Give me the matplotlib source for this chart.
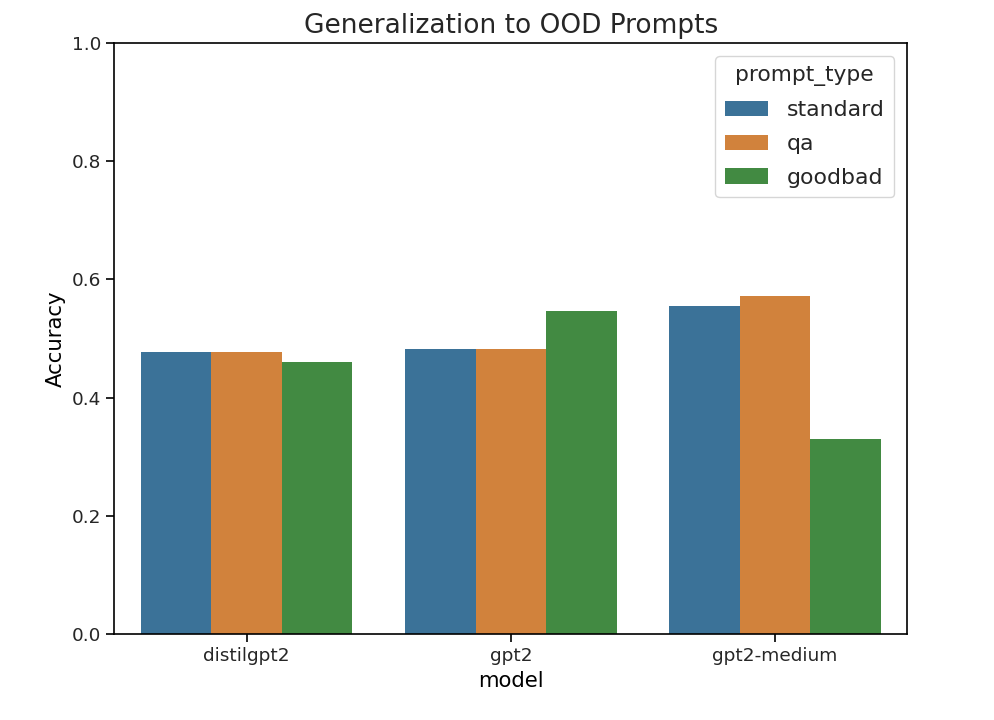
import matplotlib
matplotlib.use("Agg")
import matplotlib.pyplot as plt
import seaborn as sns
import pandas as pd

models = ["distilgpt2", "gpt2", "gpt2-medium"]
prompt_types = ["standard", "qa", "goodbad"]
standard_acc = [0.477, 0.482, 0.555]
qa_acc = [0.477, 0.482, 0.572]
goodbad_acc = [0.460, 0.547, 0.330]

rows = []
for i, m in enumerate(models):
    rows.append({"model": m, "prompt_type": "standard", "Accuracy": standard_acc[i]})
    rows.append({"model": m, "prompt_type": "qa", "Accuracy": qa_acc[i]})
    rows.append({"model": m, "prompt_type": "goodbad", "Accuracy": goodbad_acc[i]})
df = pd.DataFrame(rows)

# muted tab10 colours, as in the picture
palette = [sns.desaturate(c, 0.62) for c in ["#1f77b4", "#ff7f0e", "#2ca02c"]]

plt.rcParams["text.color"] = "#262626"
plt.rcParams["xtick.labelcolor"] = "#262626"
plt.rcParams["ytick.labelcolor"] = "#262626"
fig = plt.figure(figsize=(9.94, 7.2), dpi=100)
ax = fig.add_axes([0.1151, 0.1194, 0.7977, 0.8209])
sns.barplot(data=df, x="model", y="Accuracy", hue="prompt_type",
            hue_order=prompt_types, palette=palette, saturation=1, ax=ax)
ax.set_ylim(0, 1.0)
ax.tick_params(labelsize=13.3, length=6, width=1.2)
for s in ax.spines.values():
    s.set_linewidth(1.2)
ax.set_xlabel("model", fontsize=15.3)
ax.set_ylabel("Accuracy", fontsize=15.3)
ax.set_title("Generalization to OOD Prompts", fontsize=19, pad=7)
leg = ax.legend(title="prompt_type", fontsize=15.8, title_fontsize=15.7,
                loc="upper right", handlelength=2.0, handleheight=0.7,
                borderpad=0.42, labelspacing=0.63, handletextpad=0.85,
                borderaxespad=0.6)
fig.savefig("out.png", dpi=100)
